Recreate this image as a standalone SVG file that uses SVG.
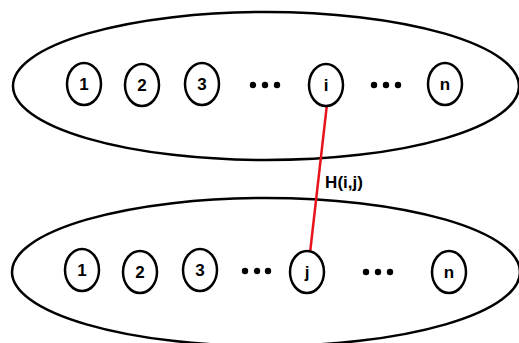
<svg xmlns="http://www.w3.org/2000/svg" width="519" height="343" viewBox="0 0 519 343">
<style>
.big{fill:none;stroke:#000;stroke-width:2.5}
.nd{fill:#fff;stroke:#000;stroke-width:2.5}
.t{font-family:"Liberation Sans",Arial,sans-serif;font-size:17px;font-weight:bold;text-anchor:middle;fill:#000}
.dot{fill:#000}
</style>
<rect width="519" height="343" fill="#fff"/>
<g id="setTop"><ellipse class="big" cx="266" cy="86" rx="253" ry="74"/></g>
<g id="setBottom"><ellipse class="big" cx="266" cy="272" rx="254" ry="74"/></g>
<g id="connectors">
<line x1="327" y1="104" x2="310" y2="253" stroke="#e8141c" stroke-width="2.5"/>
<text class="t" x="344" y="188">H(i,j)</text>
</g>
<g id="top1"><ellipse class="nd" cx="84" cy="84" rx="17" ry="21"/><text class="t" x="84" y="90">1</text></g>
<g id="top2"><ellipse class="nd" cx="142" cy="85" rx="17" ry="21"/><text class="t" x="142" y="91">2</text></g>
<g id="top3"><ellipse class="nd" cx="202" cy="84" rx="17" ry="21"/><text class="t" x="202" y="90">3</text></g>
<g id="topDots1"><circle class="dot" cx="253" cy="85" r="3.2"/><circle class="dot" cx="265" cy="85" r="3.2"/><circle class="dot" cx="277" cy="85" r="3.2"/></g>
<g id="topI"><ellipse class="nd" cx="326" cy="85" rx="17" ry="21"/><text class="t" x="326" y="91">i</text></g>
<g id="topDots2"><circle class="dot" cx="374" cy="85" r="3.2"/><circle class="dot" cx="386" cy="85" r="3.2"/><circle class="dot" cx="398" cy="85" r="3.2"/></g>
<g id="topN"><ellipse class="nd" cx="445" cy="84" rx="17" ry="21"/><text class="t" x="445" y="90">n</text></g>
<g id="bot1"><ellipse class="nd" cx="82" cy="270" rx="17" ry="21"/><text class="t" x="82" y="276">1</text></g>
<g id="bot2"><ellipse class="nd" cx="140" cy="272" rx="17" ry="21"/><text class="t" x="140" y="278">2</text></g>
<g id="bot3"><ellipse class="nd" cx="200" cy="270" rx="17" ry="21"/><text class="t" x="200" y="276">3</text></g>
<g id="botDots1"><circle class="dot" cx="245" cy="271" r="3.2"/><circle class="dot" cx="257" cy="271" r="3.2"/><circle class="dot" cx="268" cy="271" r="3.2"/></g>
<g id="botJ"><ellipse class="nd" cx="307" cy="272" rx="17" ry="21"/><text class="t" x="307" y="278">j</text></g>
<g id="botDots2"><circle class="dot" cx="366" cy="272" r="3.2"/><circle class="dot" cx="378" cy="272" r="3.2"/><circle class="dot" cx="390" cy="272" r="3.2"/></g>
<g id="botN"><ellipse class="nd" cx="449" cy="272" rx="17" ry="21"/><text class="t" x="449" y="278">n</text></g>
</svg>
